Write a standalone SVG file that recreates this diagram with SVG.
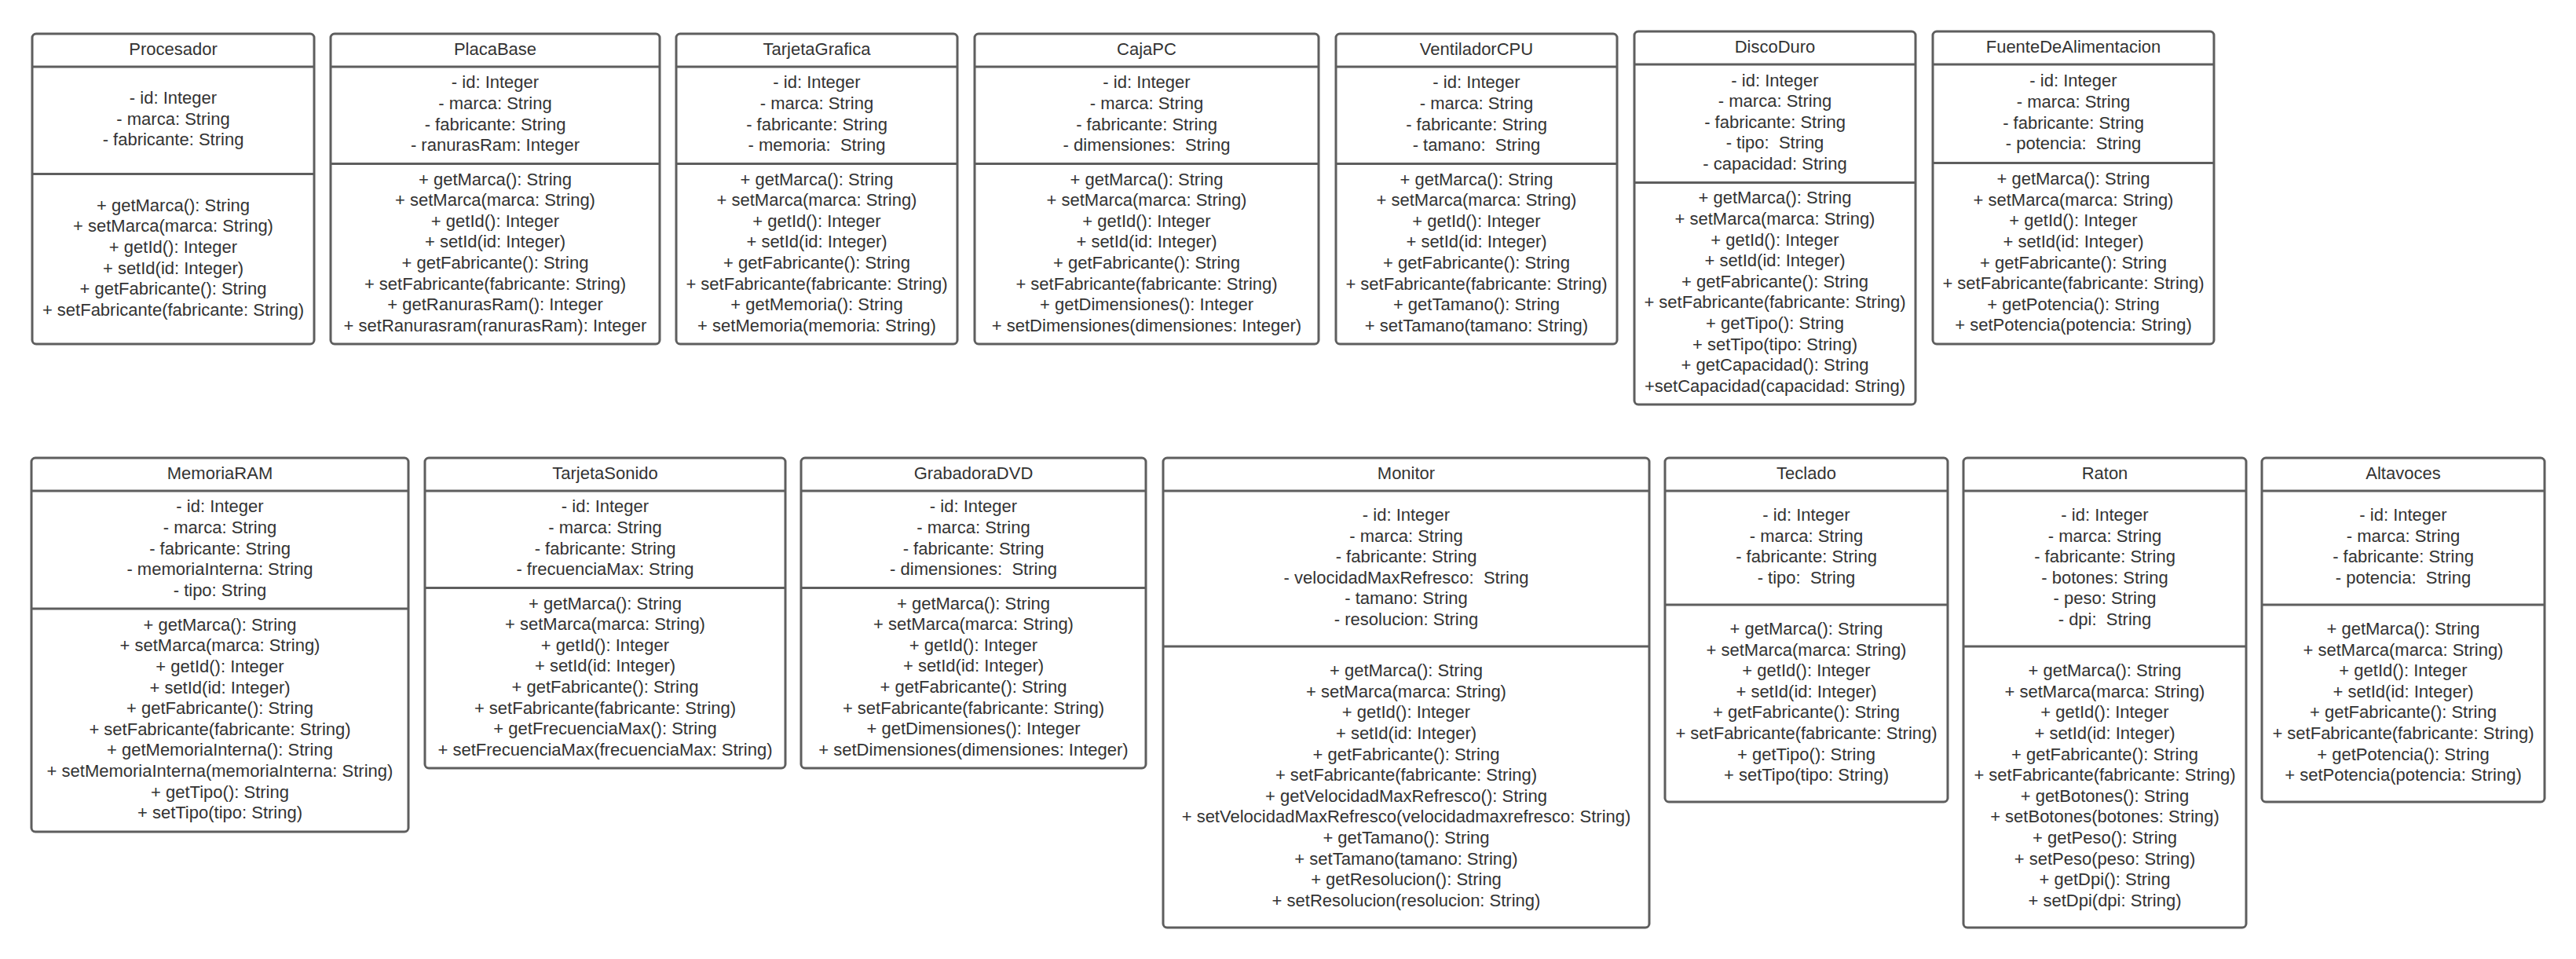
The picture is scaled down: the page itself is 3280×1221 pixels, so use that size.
<svg xmlns="http://www.w3.org/2000/svg" width="3280" height="1221" viewBox="0 0 3280 1221">
<style>
.box{fill:#ffffff;stroke:#5e5e5e;stroke-width:3}
.div{stroke:#5e5e5e;stroke-width:3}
.t{font-family:"Liberation Sans",Arial,sans-serif;font-size:22px;fill:#333333;text-anchor:middle}
</style>
<rect x="0" y="0" width="3280" height="1221" fill="#ffffff"/>
<g id="connectors"/>

<g id="procesador">
<rect class="box" x="41" y="43" width="359" height="395" rx="5"/>
<line class="div" x1="41" y1="85" x2="400" y2="85"/>
<line class="div" x1="41" y1="221.5" x2="400" y2="221.5"/>
<text class="t" x="220.5" y="69.5">Procesador</text>
<text class="t" y="132.2"><tspan x="220.5">- id: Integer</tspan><tspan x="220.5" dy="26.6">- marca: String</tspan><tspan x="220.5" dy="26.6">- fabricante: String</tspan></text>
<text class="t" y="268.8"><tspan x="220.5">+ getMarca(): String</tspan><tspan x="220.5" dy="26.6">+ setMarca(marca: String)</tspan><tspan x="220.5" dy="26.6">+ getId(): Integer</tspan><tspan x="220.5" dy="26.6">+ setId(id: Integer)</tspan><tspan x="220.5" dy="26.6">+ getFabricante(): String</tspan><tspan x="220.5" dy="26.6">+ setFabricante(fabricante: String)</tspan></text>
</g>

<g id="placabase">
<rect class="box" x="421" y="43" width="419" height="395" rx="5"/>
<line class="div" x1="421" y1="85" x2="840" y2="85"/>
<line class="div" x1="421" y1="208.5" x2="840" y2="208.5"/>
<text class="t" x="630.5" y="69.5">PlacaBase</text>
<text class="t" y="112.3"><tspan x="630.5">- id: Integer</tspan><tspan x="630.5" dy="26.6">- marca: String</tspan><tspan x="630.5" dy="26.6">- fabricante: String</tspan><tspan x="630.5" dy="26.6">- ranurasRam: Integer</tspan></text>
<text class="t" y="235.6"><tspan x="630.5">+ getMarca(): String</tspan><tspan x="630.5" dy="26.6">+ setMarca(marca: String)</tspan><tspan x="630.5" dy="26.6">+ getId(): Integer</tspan><tspan x="630.5" dy="26.6">+ setId(id: Integer)</tspan><tspan x="630.5" dy="26.6">+ getFabricante(): String</tspan><tspan x="630.5" dy="26.6">+ setFabricante(fabricante: String)</tspan><tspan x="630.5" dy="26.6">+ getRanurasRam(): Integer</tspan><tspan x="630.5" dy="26.6">+ setRanurasram(ranurasRam): Integer</tspan></text>
</g>

<g id="tarjetagrafica">
<rect class="box" x="861" y="43" width="358" height="395" rx="5"/>
<line class="div" x1="861" y1="85" x2="1219" y2="85"/>
<line class="div" x1="861" y1="208.5" x2="1219" y2="208.5"/>
<text class="t" x="1040" y="69.5">TarjetaGrafica</text>
<text class="t" y="112.3"><tspan x="1040">- id: Integer</tspan><tspan x="1040" dy="26.6">- marca: String</tspan><tspan x="1040" dy="26.6">- fabricante: String</tspan><tspan x="1040" dy="26.6">- memoria: &#160;String</tspan></text>
<text class="t" y="235.6"><tspan x="1040">+ getMarca(): String</tspan><tspan x="1040" dy="26.6">+ setMarca(marca: String)</tspan><tspan x="1040" dy="26.6">+ getId(): Integer</tspan><tspan x="1040" dy="26.6">+ setId(id: Integer)</tspan><tspan x="1040" dy="26.6">+ getFabricante(): String</tspan><tspan x="1040" dy="26.6">+ setFabricante(fabricante: String)</tspan><tspan x="1040" dy="26.6">+ getMemoria(): String</tspan><tspan x="1040" dy="26.6">+ setMemoria(memoria: String)</tspan></text>
</g>

<g id="cajapc">
<rect class="box" x="1241" y="43" width="438" height="395" rx="5"/>
<line class="div" x1="1241" y1="85" x2="1679" y2="85"/>
<line class="div" x1="1241" y1="208.5" x2="1679" y2="208.5"/>
<text class="t" x="1460" y="69.5">CajaPC</text>
<text class="t" y="112.3"><tspan x="1460">- id: Integer</tspan><tspan x="1460" dy="26.6">- marca: String</tspan><tspan x="1460" dy="26.6">- fabricante: String</tspan><tspan x="1460" dy="26.6">- dimensiones: &#160;String</tspan></text>
<text class="t" y="235.6"><tspan x="1460">+ getMarca(): String</tspan><tspan x="1460" dy="26.6">+ setMarca(marca: String)</tspan><tspan x="1460" dy="26.6">+ getId(): Integer</tspan><tspan x="1460" dy="26.6">+ setId(id: Integer)</tspan><tspan x="1460" dy="26.6">+ getFabricante(): String</tspan><tspan x="1460" dy="26.6">+ setFabricante(fabricante: String)</tspan><tspan x="1460" dy="26.6">+ getDimensiones(): Integer</tspan><tspan x="1460" dy="26.6">+ setDimensiones(dimensiones: Integer)</tspan></text>
</g>

<g id="ventiladorcpu">
<rect class="box" x="1701" y="43" width="358" height="395" rx="5"/>
<line class="div" x1="1701" y1="85" x2="2059" y2="85"/>
<line class="div" x1="1701" y1="208.5" x2="2059" y2="208.5"/>
<text class="t" x="1880" y="69.5">VentiladorCPU</text>
<text class="t" y="112.3"><tspan x="1880">- id: Integer</tspan><tspan x="1880" dy="26.6">- marca: String</tspan><tspan x="1880" dy="26.6">- fabricante: String</tspan><tspan x="1880" dy="26.6">- tamano: &#160;String</tspan></text>
<text class="t" y="235.6"><tspan x="1880">+ getMarca(): String</tspan><tspan x="1880" dy="26.6">+ setMarca(marca: String)</tspan><tspan x="1880" dy="26.6">+ getId(): Integer</tspan><tspan x="1880" dy="26.6">+ setId(id: Integer)</tspan><tspan x="1880" dy="26.6">+ getFabricante(): String</tspan><tspan x="1880" dy="26.6">+ setFabricante(fabricante: String)</tspan><tspan x="1880" dy="26.6">+ getTamano(): String</tspan><tspan x="1880" dy="26.6">+ setTamano(tamano: String)</tspan></text>
</g>

<g id="discoduro">
<rect class="box" x="2081" y="40" width="358" height="475" rx="5"/>
<line class="div" x1="2081" y1="82" x2="2439" y2="82"/>
<line class="div" x1="2081" y1="232.5" x2="2439" y2="232.5"/>
<text class="t" x="2260" y="66.5">DiscoDuro</text>
<text class="t" y="109.5"><tspan x="2260">- id: Integer</tspan><tspan x="2260" dy="26.6">- marca: String</tspan><tspan x="2260" dy="26.6">- fabricante: String</tspan><tspan x="2260" dy="26.6">- tipo: &#160;String</tspan><tspan x="2260" dy="26.6">- capacidad: String</tspan></text>
<text class="t" y="259.3"><tspan x="2260">+ getMarca(): String</tspan><tspan x="2260" dy="26.6">+ setMarca(marca: String)</tspan><tspan x="2260" dy="26.6">+ getId(): Integer</tspan><tspan x="2260" dy="26.6">+ setId(id: Integer)</tspan><tspan x="2260" dy="26.6">+ getFabricante(): String</tspan><tspan x="2260" dy="26.6">+ setFabricante(fabricante: String)</tspan><tspan x="2260" dy="26.6">+ getTipo(): String</tspan><tspan x="2260" dy="26.6">+ setTipo(tipo: String)</tspan><tspan x="2260" dy="26.6">+ getCapacidad(): String</tspan><tspan x="2260" dy="26.6">+setCapacidad(capacidad: String)</tspan></text>
</g>

<g id="fuentedealimentacion">
<rect class="box" x="2461" y="40" width="358" height="398" rx="5"/>
<line class="div" x1="2461" y1="82" x2="2819" y2="82"/>
<line class="div" x1="2461" y1="207.5" x2="2819" y2="207.5"/>
<text class="t" x="2640" y="66.5">FuenteDeAlimentacion</text>
<text class="t" y="110.3"><tspan x="2640">- id: Integer</tspan><tspan x="2640" dy="26.6">- marca: String</tspan><tspan x="2640" dy="26.6">- fabricante: String</tspan><tspan x="2640" dy="26.6">- potencia: &#160;String</tspan></text>
<text class="t" y="235.1"><tspan x="2640">+ getMarca(): String</tspan><tspan x="2640" dy="26.6">+ setMarca(marca: String)</tspan><tspan x="2640" dy="26.6">+ getId(): Integer</tspan><tspan x="2640" dy="26.6">+ setId(id: Integer)</tspan><tspan x="2640" dy="26.6">+ getFabricante(): String</tspan><tspan x="2640" dy="26.6">+ setFabricante(fabricante: String)</tspan><tspan x="2640" dy="26.6">+ getPotencia(): String</tspan><tspan x="2640" dy="26.6">+ setPotencia(potencia: String)</tspan></text>
</g>

<g id="memoriaram">
<rect class="box" x="40" y="583" width="480" height="476" rx="5"/>
<line class="div" x1="40" y1="625" x2="520" y2="625"/>
<line class="div" x1="40" y1="775" x2="520" y2="775"/>
<text class="t" x="280" y="609.5">MemoriaRAM</text>
<text class="t" y="652.3"><tspan x="280">- id: Integer</tspan><tspan x="280" dy="26.6">- marca: String</tspan><tspan x="280" dy="26.6">- fabricante: String</tspan><tspan x="280" dy="26.6">- memoriaInterna: String</tspan><tspan x="280" dy="26.6">- tipo: String</tspan></text>
<text class="t" y="802.8"><tspan x="280">+ getMarca(): String</tspan><tspan x="280" dy="26.6">+ setMarca(marca: String)</tspan><tspan x="280" dy="26.6">+ getId(): Integer</tspan><tspan x="280" dy="26.6">+ setId(id: Integer)</tspan><tspan x="280" dy="26.6">+ getFabricante(): String</tspan><tspan x="280" dy="26.6">+ setFabricante(fabricante: String)</tspan><tspan x="280" dy="26.6">+ getMemoriaInterna(): String</tspan><tspan x="280" dy="26.6">+ setMemoriaInterna(memoriaInterna: String)</tspan><tspan x="280" dy="26.6">+ getTipo(): String</tspan><tspan x="280" dy="26.6">+ setTipo(tipo: String)</tspan></text>
</g>

<g id="tarjetasonido">
<rect class="box" x="541" y="583" width="459" height="395" rx="5"/>
<line class="div" x1="541" y1="625" x2="1000" y2="625"/>
<line class="div" x1="541" y1="748.5" x2="1000" y2="748.5"/>
<text class="t" x="770.5" y="609.5">TarjetaSonido</text>
<text class="t" y="652.3"><tspan x="770.5">- id: Integer</tspan><tspan x="770.5" dy="26.6">- marca: String</tspan><tspan x="770.5" dy="26.6">- fabricante: String</tspan><tspan x="770.5" dy="26.6">- frecuenciaMax: String</tspan></text>
<text class="t" y="775.6"><tspan x="770.5">+ getMarca(): String</tspan><tspan x="770.5" dy="26.6">+ setMarca(marca: String)</tspan><tspan x="770.5" dy="26.6">+ getId(): Integer</tspan><tspan x="770.5" dy="26.6">+ setId(id: Integer)</tspan><tspan x="770.5" dy="26.6">+ getFabricante(): String</tspan><tspan x="770.5" dy="26.6">+ setFabricante(fabricante: String)</tspan><tspan x="770.5" dy="26.6">+ getFrecuenciaMax(): String</tspan><tspan x="770.5" dy="26.6">+ setFrecuenciaMax(frecuenciaMax: String)</tspan></text>
</g>

<g id="grabadoradvd">
<rect class="box" x="1020" y="583" width="439" height="395" rx="5"/>
<line class="div" x1="1020" y1="625" x2="1459" y2="625"/>
<line class="div" x1="1020" y1="748.5" x2="1459" y2="748.5"/>
<text class="t" x="1239.5" y="609.5">GrabadoraDVD</text>
<text class="t" y="652.3"><tspan x="1239.5">- id: Integer</tspan><tspan x="1239.5" dy="26.6">- marca: String</tspan><tspan x="1239.5" dy="26.6">- fabricante: String</tspan><tspan x="1239.5" dy="26.6">- dimensiones: &#160;String</tspan></text>
<text class="t" y="775.6"><tspan x="1239.5">+ getMarca(): String</tspan><tspan x="1239.5" dy="26.6">+ setMarca(marca: String)</tspan><tspan x="1239.5" dy="26.6">+ getId(): Integer</tspan><tspan x="1239.5" dy="26.6">+ setId(id: Integer)</tspan><tspan x="1239.5" dy="26.6">+ getFabricante(): String</tspan><tspan x="1239.5" dy="26.6">+ setFabricante(fabricante: String)</tspan><tspan x="1239.5" dy="26.6">+ getDimensiones(): Integer</tspan><tspan x="1239.5" dy="26.6">+ setDimensiones(dimensiones: Integer)</tspan></text>
</g>

<g id="monitor">
<rect class="box" x="1481" y="583" width="619" height="598" rx="5"/>
<line class="div" x1="1481" y1="625" x2="2100" y2="625"/>
<line class="div" x1="1481" y1="823" x2="2100" y2="823"/>
<text class="t" x="1790.5" y="609.5">Monitor</text>
<text class="t" y="663"><tspan x="1790.5">- id: Integer</tspan><tspan x="1790.5" dy="26.6">- marca: String</tspan><tspan x="1790.5" dy="26.6">- fabricante: String</tspan><tspan x="1790.5" dy="26.6">- velocidadMaxRefresco: &#160;String</tspan><tspan x="1790.5" dy="26.6">- tamano: String</tspan><tspan x="1790.5" dy="26.6">- resolucion: String</tspan></text>
<text class="t" y="861.2"><tspan x="1790.5">+ getMarca(): String</tspan><tspan x="1790.5" dy="26.6">+ setMarca(marca: String)</tspan><tspan x="1790.5" dy="26.6">+ getId(): Integer</tspan><tspan x="1790.5" dy="26.6">+ setId(id: Integer)</tspan><tspan x="1790.5" dy="26.6">+ getFabricante(): String</tspan><tspan x="1790.5" dy="26.6">+ setFabricante(fabricante: String)</tspan><tspan x="1790.5" dy="26.6">+ getVelocidadMaxRefresco(): String</tspan><tspan x="1790.5" dy="26.6">+ setVelocidadMaxRefresco(velocidadmaxrefresco: String)</tspan><tspan x="1790.5" dy="26.6">+ getTamano(): String</tspan><tspan x="1790.5" dy="26.6">+ setTamano(tamano: String)</tspan><tspan x="1790.5" dy="26.6">+ getResolucion(): String</tspan><tspan x="1790.5" dy="26.6">+ setResolucion(resolucion: String)</tspan></text>
</g>

<g id="teclado">
<rect class="box" x="2120" y="583" width="360" height="438" rx="5"/>
<line class="div" x1="2120" y1="625" x2="2480" y2="625"/>
<line class="div" x1="2120" y1="770" x2="2480" y2="770"/>
<text class="t" x="2300" y="609.5">Teclado</text>
<text class="t" y="663.1"><tspan x="2300">- id: Integer</tspan><tspan x="2300" dy="26.6">- marca: String</tspan><tspan x="2300" dy="26.6">- fabricante: String</tspan><tspan x="2300" dy="26.6">- tipo: &#160;String</tspan></text>
<text class="t" y="807.9"><tspan x="2300">+ getMarca(): String</tspan><tspan x="2300" dy="26.6">+ setMarca(marca: String)</tspan><tspan x="2300" dy="26.6">+ getId(): Integer</tspan><tspan x="2300" dy="26.6">+ setId(id: Integer)</tspan><tspan x="2300" dy="26.6">+ getFabricante(): String</tspan><tspan x="2300" dy="26.6">+ setFabricante(fabricante: String)</tspan><tspan x="2300" dy="26.6">+ getTipo(): String</tspan><tspan x="2300" dy="26.6">+ setTipo(tipo: String)</tspan></text>
</g>

<g id="raton">
<rect class="box" x="2500" y="583" width="360" height="598" rx="5"/>
<line class="div" x1="2500" y1="625" x2="2860" y2="625"/>
<line class="div" x1="2500" y1="823" x2="2860" y2="823"/>
<text class="t" x="2680" y="609.5">Raton</text>
<text class="t" y="663"><tspan x="2680">- id: Integer</tspan><tspan x="2680" dy="26.6">- marca: String</tspan><tspan x="2680" dy="26.6">- fabricante: String</tspan><tspan x="2680" dy="26.6">- botones: String</tspan><tspan x="2680" dy="26.6">- peso: String</tspan><tspan x="2680" dy="26.6">- dpi: &#160;String</tspan></text>
<text class="t" y="861.2"><tspan x="2680">+ getMarca(): String</tspan><tspan x="2680" dy="26.6">+ setMarca(marca: String)</tspan><tspan x="2680" dy="26.6">+ getId(): Integer</tspan><tspan x="2680" dy="26.6">+ setId(id: Integer)</tspan><tspan x="2680" dy="26.6">+ getFabricante(): String</tspan><tspan x="2680" dy="26.6">+ setFabricante(fabricante: String)</tspan><tspan x="2680" dy="26.6">+ getBotones(): String</tspan><tspan x="2680" dy="26.6">+ setBotones(botones: String)</tspan><tspan x="2680" dy="26.6">+ getPeso(): String</tspan><tspan x="2680" dy="26.6">+ setPeso(peso: String)</tspan><tspan x="2680" dy="26.6">+ getDpi(): String</tspan><tspan x="2680" dy="26.6">+ setDpi(dpi: String)</tspan></text>
</g>

<g id="altavoces">
<rect class="box" x="2880" y="583" width="360" height="438" rx="5"/>
<line class="div" x1="2880" y1="625" x2="3240" y2="625"/>
<line class="div" x1="2880" y1="770" x2="3240" y2="770"/>
<text class="t" x="3060" y="609.5">Altavoces</text>
<text class="t" y="663.1"><tspan x="3060">- id: Integer</tspan><tspan x="3060" dy="26.6">- marca: String</tspan><tspan x="3060" dy="26.6">- fabricante: String</tspan><tspan x="3060" dy="26.6">- potencia: &#160;String</tspan></text>
<text class="t" y="807.9"><tspan x="3060">+ getMarca(): String</tspan><tspan x="3060" dy="26.6">+ setMarca(marca: String)</tspan><tspan x="3060" dy="26.6">+ getId(): Integer</tspan><tspan x="3060" dy="26.6">+ setId(id: Integer)</tspan><tspan x="3060" dy="26.6">+ getFabricante(): String</tspan><tspan x="3060" dy="26.6">+ setFabricante(fabricante: String)</tspan><tspan x="3060" dy="26.6">+ getPotencia(): String</tspan><tspan x="3060" dy="26.6">+ setPotencia(potencia: String)</tspan></text>
</g>
</svg>
